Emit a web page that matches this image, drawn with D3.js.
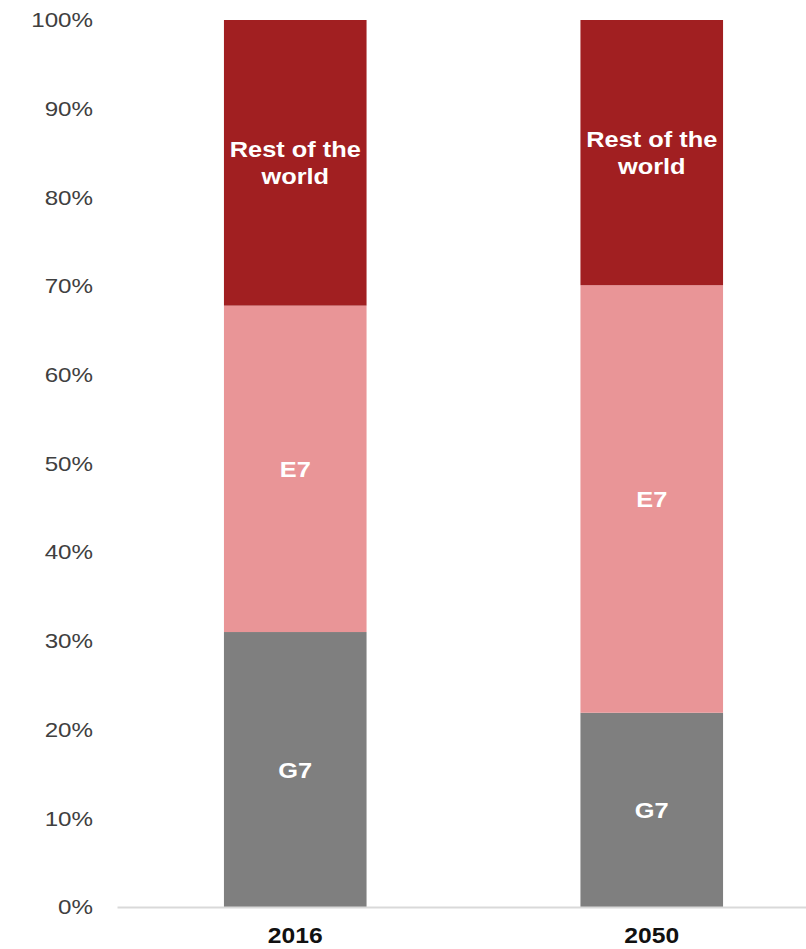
<!DOCTYPE html>
<html>
<head>
<meta charset="utf-8">
<style>
  body { margin: 0; background: #fff; }
  svg { display: block; font-family: "Liberation Sans", Arial, sans-serif; }
</style>
</head>
<body>
<div id="chart"></div>
<script src="https://d3js.org/d3.v7.min.js"></script>
<script>
const years = ['2016', '2050'];
const groups = ['G7', 'E7', 'Rest of the world'];
const g7 = [31.0, 21.9];
const e7 = [36.8, 48.2];
const rest = [32.2, 29.9];
const yTicks = [0, 10, 20, 30, 40, 50, 60, 70, 80, 90, 100];
const colors = ['#7f7f7f', '#e99597', '#a11f21'];

const svgWidth = 806, svgHeight = 949;
const plotLeft = 117, plotTop = 20, plotBottom = 907;

const svg = d3.select('#chart').append('svg')
  .attr('width', svgWidth)
  .attr('height', svgHeight);

// the source text looks a bit wide, stretch it horizontally
function widen(sel, k) {
  sel.each(function() {
    const w = this.getComputedTextLength();
    d3.select(this).attr('textLength', w * k).attr('lengthAdjust', 'spacingAndGlyphs');
  });
}

const x = d3.scaleBand()
  .domain(years)
  .range([plotLeft, 830])
  .paddingInner(0.6)
  .paddingOuter(0.3);

const y = d3.scaleLinear()
  .domain([0, 100])
  .range([plotBottom, plotTop]);

const rows = years.map((yr, i) => ({ year: yr, 'G7': g7[i], 'E7': e7[i], 'Rest of the world': rest[i] }));
const series = d3.stack().keys(groups)(rows);

// y axis labels only
const yAxis = d3.axisLeft(y).tickValues(yTicks).tickFormat(d => d + '%').tickSize(0).tickPadding(24);
const ya = svg.append('g')
  .attr('transform', `translate(${plotLeft},0)`)
  .call(yAxis);
ya.select('.domain').remove();
ya.selectAll('text')
  .attr('font-size', 21)
  .attr('font-family', '"Liberation Sans", Arial, sans-serif')
  .attr('fill', '#404040');
widen(ya.selectAll('text'), 1.15);

// bars
const layer = svg.selectAll('g.layer')
  .data(series)
  .enter().append('g')
  .attr('class', 'layer')
  .attr('fill', (d, i) => colors[i]);

layer.selectAll('rect')
  .data(d => d)
  .enter().append('rect')
  .attr('x', d => x(d.data.year))
  .attr('y', d => y(d[1]))
  .attr('width', x.bandwidth())
  .attr('height', d => y(d[0]) - y(d[1]));

// segment labels
series.forEach(s => {
  s.forEach(d => {
    const cx = x(d.data.year) + x.bandwidth() / 2;
    const cy = (y(d[0]) + y(d[1])) / 2;
    const lines = s.key === 'Rest of the world' ? ['Rest of the', 'world'] : [s.key];
    const t = svg.append('text')
      .attr('class', 'seg-label')
      .attr('x', cx)
      .attr('y', cy)
      .attr('text-anchor', 'middle')
      .attr('fill', '#fff')
      .attr('font-weight', 'bold')
      .attr('font-size', 21.5);
    lines.forEach((ln, j) => {
      t.append('tspan')
        .attr('x', cx)
        .attr('y', cy + 8 + (j - (lines.length - 1) / 2) * 27)
        .text(ln);
    });
  });
});
widen(svg.selectAll('.seg-label tspan'), 1.18);

// x axis
const xAxis = d3.axisBottom(x).tickSize(0).tickPadding(20);
const xa = svg.append('g')
  .attr('transform', `translate(0,${plotBottom})`)
  .call(xAxis);
xa.select('.domain')
  .attr('stroke', '#d9d9d9')
  .attr('stroke-width', 2);
xa.selectAll('text')
  .attr('font-size', 22)
  .attr('font-weight', 'bold')
  .attr('font-family', '"Liberation Sans", Arial, sans-serif')
  .attr('fill', '#111');
widen(xa.selectAll('text'), 1.12);
</script>
</body>
</html>
